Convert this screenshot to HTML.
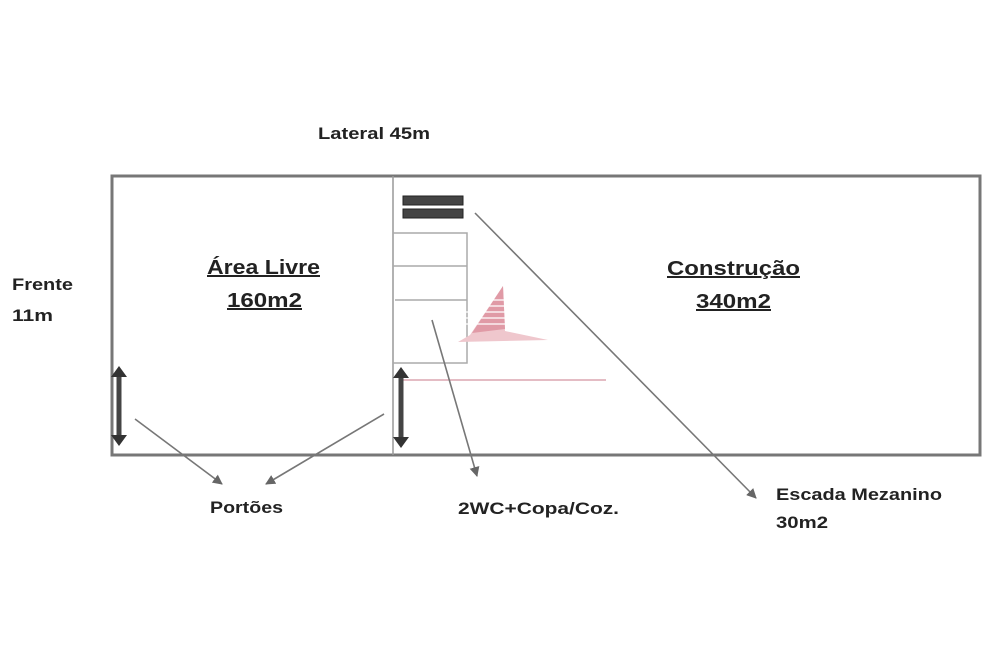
<!DOCTYPE html>
<html><head><meta charset="utf-8"><style>
html,body{margin:0;padding:0;background:#fff;}
svg{display:block;}
text{font-family:"Liberation Sans",sans-serif;font-weight:bold;fill:#222;}
</style></head><body>
<svg width="993" height="663" viewBox="0 0 993 663" xmlns="http://www.w3.org/2000/svg">
<defs>
<marker id="ah" markerWidth="10" markerHeight="10" refX="9" refY="5" orient="auto" markerUnits="userSpaceOnUse" viewBox="0 0 10 10">
<path d="M0,0 L10,5 L0,10 z" fill="#666"/></marker>
</defs>
<rect x="112" y="176" width="868" height="279" fill="none" stroke="#777" stroke-width="3"/>
<line x1="393" y1="176" x2="393" y2="455" stroke="#999" stroke-width="1.5"/>
<rect x="393" y="233" width="74" height="130" fill="none" stroke="#aaa" stroke-width="1.5"/>
<line x1="393" y1="266" x2="467" y2="266" stroke="#aaa" stroke-width="1.5"/>
<line x1="395" y1="300" x2="467" y2="300" stroke="#aaa" stroke-width="1.5"/>
<rect x="403" y="196" width="60" height="9" fill="#444" stroke="#222"/>
<rect x="403" y="209" width="60" height="9" fill="#444" stroke="#222"/>
<!-- watermark -->
<polygon points="503,286 470,335 458,342 548,340 505,331" fill="#efc7cd"/>
<polygon points="503,286 472,333 505,329" fill="#e09aa6"/>
<g stroke="#fff" stroke-width="1.2">
<line x1="470" y1="300" x2="520" y2="300"/><line x1="470" y1="306" x2="520" y2="306"/>
<line x1="466" y1="312" x2="525" y2="312"/><line x1="462" y1="318" x2="530" y2="318"/>
<line x1="460" y1="324" x2="535" y2="324"/>
</g>
<line x1="400" y1="380" x2="606" y2="380" stroke="#c8798a" stroke-width="1"/>
<!-- gate arrows -->
<line x1="119" y1="373" x2="119" y2="439" stroke="#444" stroke-width="5"/>
<path d="M111,377 L119,366 L127,377 z M111,435 L119,446 L127,435 z" fill="#333"/>
<line x1="401" y1="374" x2="401" y2="441" stroke="#444" stroke-width="5"/>
<path d="M393,378 L401,367 L409,378 z M393,437 L401,448 L409,437 z" fill="#333"/>
<!-- pointer lines -->
<g stroke="#777" stroke-width="1.6" fill="none">
<line x1="135" y1="419" x2="222" y2="484" marker-end="url(#ah)"/>
<line x1="384" y1="414" x2="266" y2="484" marker-end="url(#ah)"/>
<line x1="432" y1="320" x2="477" y2="476" marker-end="url(#ah)"/>
<line x1="475" y1="213" x2="756" y2="498" marker-end="url(#ah)"/>
</g>
<text x="318" y="139" font-size="17" textLength="112" lengthAdjust="spacingAndGlyphs">Lateral 45m</text>
<text x="12" y="290" font-size="17" textLength="61" lengthAdjust="spacingAndGlyphs">Frente</text>
<text x="12" y="321" font-size="17" textLength="41" lengthAdjust="spacingAndGlyphs">11m</text>
<text x="207" y="274" font-size="20" textLength="113" lengthAdjust="spacingAndGlyphs" text-decoration="underline">Área Livre</text>
<text x="227" y="307" font-size="20" textLength="75" lengthAdjust="spacingAndGlyphs" text-decoration="underline">160m2</text>
<text x="667" y="275" font-size="20" textLength="133" lengthAdjust="spacingAndGlyphs" text-decoration="underline">Construção</text>
<text x="696" y="308" font-size="20" textLength="75" lengthAdjust="spacingAndGlyphs" text-decoration="underline">340m2</text>
<text x="210" y="513" font-size="17" textLength="73" lengthAdjust="spacingAndGlyphs">Portões</text>
<text x="458" y="514" font-size="17" textLength="161" lengthAdjust="spacingAndGlyphs">2WC+Copa/Coz.</text>
<text x="776" y="500" font-size="17" textLength="166" lengthAdjust="spacingAndGlyphs">Escada Mezanino</text>
<text x="776" y="528" font-size="17" textLength="52" lengthAdjust="spacingAndGlyphs">30m2</text>
</svg>
</body></html>
